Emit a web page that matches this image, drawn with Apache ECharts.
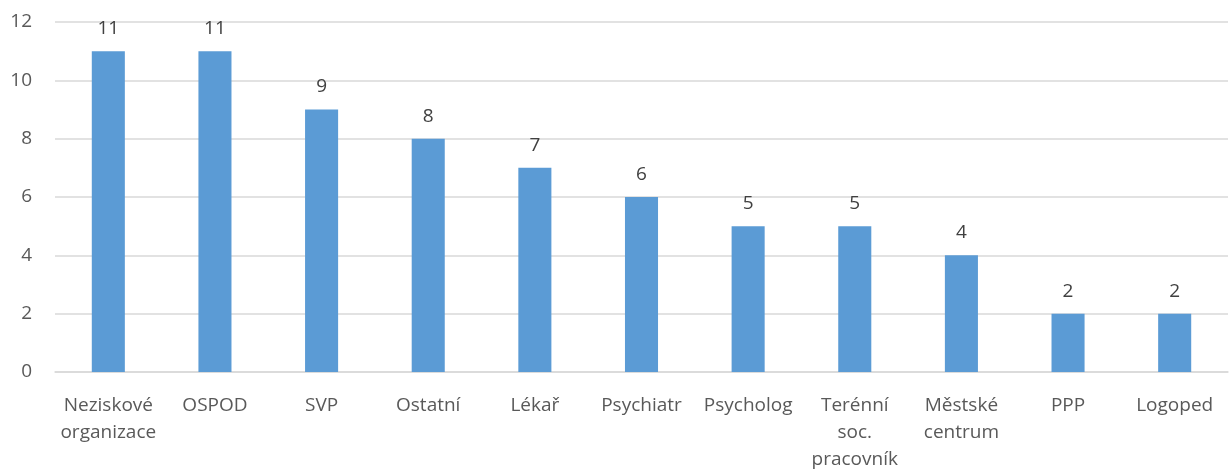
<!DOCTYPE html>
<html>
<head>
<meta charset="utf-8">
<script src="https://cdn.jsdelivr.net/npm/echarts@6/dist/echarts.min.js"></script>
<style>
  html, body { margin: 0; padding: 0; background: #fff; }
  #chart { width: 1231px; height: 473px; }
</style>
</head>
<body>
<div id="chart"></div>
<script>
var categories = ['Neziskové\norganizace', 'OSPOD', 'SVP', 'Ostatní', 'Lékař', 'Psychiatr', 'Psycholog', 'Terénní\nsoc.\npracovník', 'Městské\ncentrum', 'PPP', 'Logoped']
var values = [11, 11, 9, 8, 7, 6, 5, 5, 4, 2, 2]
var yTicks = [0, 2, 4, 6, 8, 10, 12]

var myChart = echarts.init(document.getElementById('chart'))
var font = '"Open Sans", "Noto Sans", sans-serif'
var option = {
  animation: false,
  grid: {
    left: 55,
    right: 3,
    top: 22,
    bottom: 98,
    containLabel: false
  },
  xAxis: {
    type: 'category',
    data: categories,
    axisTick: { show: false },
    axisLine: { show: true, lineStyle: { color: '#d9d9d9', width: 1.5 } },
    axisLabel: {
      interval: 0,
      color: '#595959',
      fontFamily: font,
      fontSize: 19,
      lineHeight: 27,
      margin: 20
    }
  },
  yAxis: {
    type: 'value',
    min: yTicks[0],
    max: yTicks[yTicks.length - 1],
    interval: 2,
    axisLine: { show: false },
    axisTick: { show: false },
    axisLabel: {
      color: '#595959',
      fontFamily: font,
      fontSize: 19,
      margin: 23
    },
    splitLine: { lineStyle: { color: '#d9d9d9', width: 1.5 } }
  },
  series: [
    {
      type: 'bar',
      data: values,
      barWidth: '31%',
      itemStyle: { color: '#5b9bd5' },
      label: {
        show: true,
        position: 'top',
        distance: 13,
        color: '#404040',
        fontFamily: font,
        fontSize: 19
      }
    }
  ]
}
myChart.setOption(option)
</script>
</body>
</html>
